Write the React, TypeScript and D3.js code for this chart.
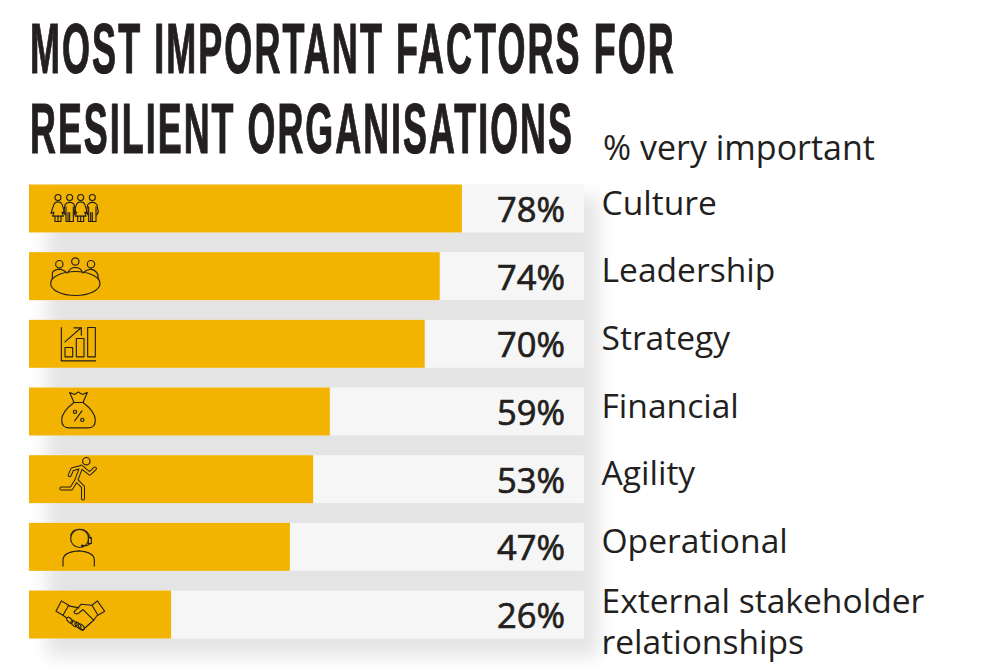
import * as d3 from 'd3';

const categories = ['Culture', 'Leadership', 'Strategy', 'Financial', 'Agility', 'Operational', 'External stakeholder relationships'];
const values = [78, 74, 70, 59, 53, 47, 26];
// the printed bars do not quite follow the printed numbers, so their lengths are read separately
const barLengths = [78, 74, 71.3, 54.2, 51.2, 47, 25.6];
const labelLines = [['Culture'], ['Leadership'], ['Strategy'], ['Financial'], ['Agility'], ['Operational'], ['External stakeholder', 'relationships']];
const titleLines = ['MOST IMPORTANT FACTORS FOR', 'RESILIENT ORGANISATIONS'];
const subtitle = '% very important';

const WIDTH = 1000;
const HEIGHT = 672;
const INK = '#231f20';
const GOLD = '#f2b400';
const TRACK = '#f6f6f6';
const LABEL_FONT = '"Open Sans", "Noto Sans", sans-serif';
const TITLE_FONT = '"Liberation Sans", sans-serif';
const TITLE_SIZE = 70;
const TITLE_TRACKING = 4;

const x = d3.scaleLinear().domain([0, 100]).range([29, 584]);
const y = d3.scaleBand<string>().domain(categories).range([184.5, 638.5]).paddingInner(0.2915);

// horizontal squeeze so a title line fills the width it has in the picture
function titleScale(line: string, target: number) {
  const ctx = document.createElement('canvas').getContext('2d')!;
  ctx.font = `700 ${TITLE_SIZE}px ${TITLE_FONT}`;
  return target / (ctx.measureText(line).width + line.length * TITLE_TRACKING);
}

// icons are outlined in 1/3 px units, relative to the top-left of their bar
function Outline({ children }: { children: React.ReactNode }) {
  return (
    <g fill="none" stroke={INK} strokeWidth={3.4} strokeLinejoin="round" strokeLinecap="round">
      {children}
    </g>
  );
}

function Woman({ at }: { at: number }) {
  return (
    <g transform={`translate(${at},39)`}>
      <circle r={9} />
      <path d="M-8,15 Q0,11 8,15 Q14,20 16,32 L21,48 L12,44 L16,56 L-16,56 L-12,44 L-21,48 L-16,32 Q-14,20 -8,15 Z" />
      <path d="M-9,56 V72 H9 V56 M0,56 V72" />
    </g>
  );
}

function Man({ at }: { at: number }) {
  return (
    <g transform={`translate(${at},39)`}>
      <circle r={9} />
      <path d="M-13,52 L-18,44 L-14,22 Q-10,15 0,14 Q10,15 14,22 L18,44 L13,52" />
      <path d="M-11,28 V72 H11 V28 M0,45 V72 M-5,45 V72" />
    </g>
  );
}

function Culture() {
  return (
    <Outline>
      <Woman at={87} />
      <Man at={122} />
      <Woman at={155} />
      <Man at={190} />
    </Outline>
  );
}

function Leadership() {
  return (
    <Outline>
      <ellipse cx={139} cy={94} rx={74} ry={36} />
      <circle cx={91} cy={36} r={11} />
      <circle cx={139} cy={28} r={11} />
      <circle cx={186} cy={36} r={11} />
      <path d="M70,79 V64 Q70,54 91,51 Q107,54 112,62" />
      <path d="M117,62 Q122,46 139,46 Q157,46 160,62" />
      <path d="M164,62 Q169,54 186,51 Q208,56 208,79" />
    </Outline>
  );
}

function Strategy() {
  return (
    <Outline>
      <path d="M97,23 V123 H200" />
      <rect x={108} y={83} width={23} height={28} />
      <rect x={142} y={56} width={23} height={55} />
      <rect x={176} y={23} width={23} height={88} />
      <path d="M108,66 L157,23 M135,24 H157 V46" />
    </Outline>
  );
}

function Financial() {
  return (
    <Outline>
      <path d="M135,45 Q98,73 98,98 Q98,121 122,121 H177 Q199,121 199,98 Q199,73 162,45 H135" />
      <path d="M135,45 L122,15 L137,21 L148,13 L160,21 L175,15 L162,45" />
      <circle cx={138} cy={73} r={5} />
      <circle cx={160} cy={97} r={5} />
      <path d="M159,70 L137,100" />
    </Outline>
  );
}

const runnerLimbs = 'M157,35 L142,75 L162,95 L162,130 M142,75 L127,100 L97,100 M157,35 L182,55 L198,40 M157,35 L130,42 L122,60';

function Agility() {
  return (
    <g fill="none" strokeLinejoin="round" strokeLinecap="round">
      <path d={runnerLimbs} stroke={INK} strokeWidth={12} />
      <path d={runnerLimbs} stroke={GOLD} strokeWidth={6} />
      <circle cx={172} cy={18} r={11} stroke={INK} strokeWidth={3.4} />
    </g>
  );
}

function Operational() {
  return (
    <Outline>
      <circle cx={152} cy={47} r={27} />
      <path d="M125,37 Q130,19 152,19 Q177,19 185,47" />
      <rect x={178} y={44} width={9} height={18} />
      <path d="M184,62 Q177,69 160,69" />
      <circle cx={160} cy={69} r={2.5} fill={INK} />
      <path d="M102,129 V112 Q102,87 149,84 Q196,87 196,112 V129" />
    </Outline>
  );
}

function Handshake() {
  return (
    <Outline>
      <path d="M97,31 L119,44 L102,74 L81,62 Z" />
      <path d="M205,31 L227,62 L207,74 L189,44 Z" />
      <path d="M119,46 L150,52 M189,44 L157,41 L135,64 Q137,74 150,67 L162,57 L194,89 L160,119 L152,115" />
      <path d="M102,74 L112,82 M205,74 L194,89" />
      {[[122, 89], [135, 99], [147, 104], [157, 109]].map(([cx, cy]) => (
        <ellipse key={cx} cx={cx} cy={cy} rx={11} ry={6} transform={`rotate(45 ${cx} ${cy})`} />
      ))}
    </Outline>
  );
}

const icons = [Culture, Leadership, Strategy, Financial, Agility, Operational, Handshake];

export default function App() {
  const bandwidth = y.bandwidth();
  const firstTop = y(categories[0])!;
  const lastBottom = y(categories[categories.length - 1])! + bandwidth;
  return (
    <svg
      width={WIDTH}
      height={HEIGHT}
      viewBox={`0 0 ${WIDTH} ${HEIGHT}`}
      style={{ position: 'absolute', left: 0, top: 0, background: '#fff' }}
    >
      <defs>
        <filter id="bar-shadow" x="-10%" y="-10%" width="120%" height="120%">
          <feGaussianBlur stdDeviation="9" />
        </filter>
      </defs>

      {titleLines.map((line, i) => (
        <text
          key={line}
          transform={`translate(30,${[73, 153][i]}) scale(${titleScale(line, [646, 544][i])},1)`}
          fontFamily={TITLE_FONT}
          fontWeight={700}
          fontSize={TITLE_SIZE}
          letterSpacing={TITLE_TRACKING}
          stroke={INK}
          strokeWidth={1.2}
          fill={INK}
        >
          {line}
        </text>
      ))}
      <text x={603} y={160} fontFamily={LABEL_FONT} fontSize={34} fill={INK}>
        {subtitle}
      </text>

      {/* one soft shadow behind the whole stack */}
      <rect
        x={x(0) + 18}
        y={firstTop + 12}
        width={x(100) - x(0) - 4}
        height={lastBottom - firstTop + 6}
        fill="#e4e4e4"
        filter="url(#bar-shadow)"
      />

      {categories.map((c, i) => {
        const Icon = icons[i];
        const lines = labelLines[i];
        return (
          <g key={c}>
            <rect x={x(0)} y={y(c)} width={x(100) - x(0)} height={bandwidth} fill={TRACK} />
            <rect x={x(0)} y={y(c)} width={x(barLengths[i]) - x(0)} height={bandwidth} fill={GOLD} />
            <g transform={`translate(${x(0)},${y(c)}) scale(${1 / 3})`}>
              <Icon />
            </g>
            <text
              x={565}
              y={y(c)! + 37.5}
              textAnchor="end"
              fontFamily={LABEL_FONT}
              fontWeight={400}
              fontSize={34.5}
              stroke={INK}
              strokeWidth={0.7}
              fill={INK}
            >
              {values[i]}%
            </text>
            {lines.map((line, j) => (
              <text
                key={line}
                x={601.5}
                y={y(c)! + (lines.length > 1 ? 22 : 30) + j * 41}
                fontFamily={LABEL_FONT}
                fontSize={33.6}
                fill={INK}
              >
                {line}
              </text>
            ))}
          </g>
        );
      })}
    </svg>
  );
}
